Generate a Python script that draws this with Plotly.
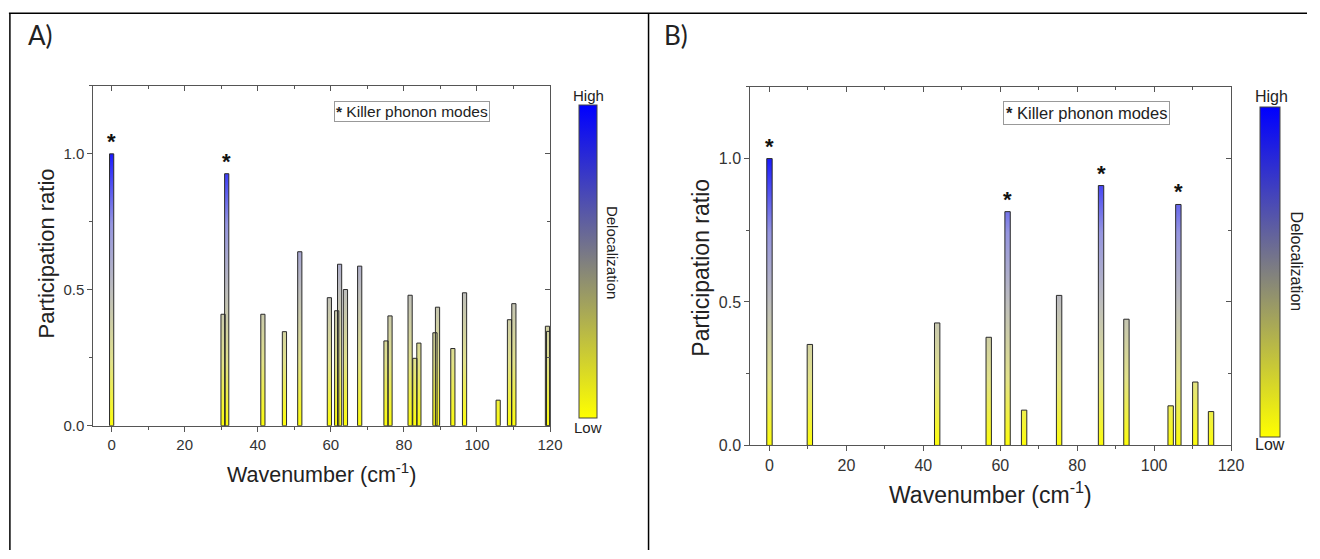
import plotly.graph_objects as go

W, H = 1320, 559

# ---------------- data ----------------
a_wavenumber = [0, 30.5, 31.5, 41.4, 47.3, 51.5, 59.6, 61.6, 62.4, 64.0, 67.9, 75.1, 76.2,
                81.7, 83.0, 84.1, 88.5, 89.2, 93.4, 96.6, 105.8, 108.9, 110.1, 119.3, 119.6]
a_ratio = [1.0, 0.41, 0.927, 0.41, 0.346, 0.64, 0.471, 0.423, 0.594, 0.501, 0.587, 0.312, 0.404,
           0.48, 0.248, 0.304, 0.342, 0.436, 0.284, 0.489, 0.094, 0.39, 0.449, 0.366, 0.347]
a_killer = [0, 31.5]

b_wavenumber = [0, 10.5, 43.6, 57.0, 61.9, 66.2, 75.3, 86.2, 92.8, 104.3, 106.3, 110.7, 114.8]
b_ratio = [1.0, 0.352, 0.427, 0.377, 0.815, 0.123, 0.523, 0.906, 0.44, 0.138, 0.84, 0.221, 0.118]
b_killer = [0, 61.9, 86.2, 106.3]

x_ticks = [0, 20, 40, 60, 80, 100, 120]
y_ticks = [0.0, 0.5, 1.0]
legend_text = "<b>*</b> Killer phonon modes"

# ---------------- styles ----------------
FONT = "Arial, Liberation Sans, sans-serif"
AXC = "#555555"
cbar_scale = [[0, "#ffff00"], [1, "#0000ff"]]
bar_scale = [[0, "#ffff00"], [0.25, "#e2e28a"], [0.5, "#bfbfbc"], [0.75, "#9595e0"], [1, "#1c1cff"]]


def px(x):
    return x / W


def py(y):
    return 1 - y / H


def bar_polygons(xs, hs, w):
    px_, py_ = [], []
    for x, h in zip(xs, hs):
        px_ += [x - w / 2, x - w / 2, x + w / 2, x + w / 2, x - w / 2, None]
        py_ += [0, h, h, 0, 0, None]
    return px_, py_


fig = go.Figure()
star_annotations = []


def add_panel(xs, hs, killer, w, xa, ya, xa2, ya2, star_size):
    bx, by = bar_polygons(xs, hs, w)
    fig.add_trace(go.Scatter(
        x=bx, y=by, mode="lines", fill="toself",
        fillgradient=dict(type="vertical", colorscale=bar_scale, start=0, stop=1),
        line=dict(color="#2a2a2a", width=1),
        xaxis=xa, yaxis=ya, showlegend=False, hoverinfo="skip"))
    for k in killer:
        star_annotations.append(dict(
            text="<b>*</b>", x=k, y=hs[xs.index(k)], xref=xa, yref=ya, showarrow=False,
            xanchor="center", yanchor="bottom", yshift=-2,
            font=dict(size=star_size, color="#111", family=FONT)))
    fig.add_trace(go.Scatter(x=[None], y=[None], xaxis=xa2, yaxis=ya2,
                             showlegend=False, hoverinfo="skip"))


add_panel(a_wavenumber, a_ratio, a_killer, 1.15, "x", "y", "x2", "y2", 22)
add_panel(b_wavenumber, b_ratio, b_killer, 1.4, "x3", "y3", "x4", "y4", 22)


def cbar_trace(xa, ya, cx, top, bottom, thick):
    fig.add_trace(go.Scatter(
        x=[-100, -100], y=[-100, -100], mode="markers", xaxis=xa, yaxis=ya,
        marker=dict(color=[0, 1], colorscale=cbar_scale, cmin=0, cmax=1, size=1, opacity=0,
                    showscale=True,
                    colorbar=dict(x=px(cx), xanchor="left", y=py((top + bottom) / 2),
                                  yanchor="middle", len=bottom - top, lenmode="pixels",
                                  thickness=thick, thicknessmode="pixels", outlinewidth=1,
                                  outlinecolor="#444", showticklabels=False, ticks="",
                                  xpad=0, ypad=0)),
        showlegend=False, hoverinfo="skip"))


cbar_trace("x", "y", 585, 109, 422, 18)
cbar_trace("x3", "y3", 1273, 111, 441, 20)


def axis_common(rng, minor_dtick, fmt=None, size=15):
    d = dict(range=rng, tickmode="array", showline=True, linecolor=AXC, linewidth=1,
             ticks="outside", ticklen=5, tickcolor=AXC, tickwidth=1,
             tickfont=dict(size=size, color="#333", family=FONT),
             showgrid=False, zeroline=False,
             minor=dict(ticks="outside", ticklen=3, tickcolor=AXC, dtick=minor_dtick,
                        showgrid=False))
    if fmt:
        d["tickformat"] = fmt
    return d


xr = [-5, 120]
yr = [0, 1.25]

# Panel A axes
xa = axis_common(xr, 10, size=15)
xa.update(domain=[px(94.3), px(555.5)], anchor="y", tickvals=x_ticks)
ya = axis_common(yr, 0.25, ".1f", size=15)
ya.update(domain=[py(432.7), py(87.3)], anchor="x", tickvals=y_ticks)
xa2 = axis_common(xr, 10)
xa2.update(overlaying="x", anchor="y", side="top", ticks="inside", showticklabels=False,
           tickvals=x_ticks)
xa2["minor"]["ticks"] = "inside"
ya2 = axis_common(yr, 0.25)
ya2.update(overlaying="y", anchor="x", side="right", ticks="inside", showticklabels=False,
           tickvals=y_ticks)
ya2["minor"]["ticks"] = "inside"

# Panel B axes
xb = axis_common(xr, 10, size=16)
xb.update(domain=[px(757.7), px(1243.3)], anchor="y3", tickvals=x_ticks)
yb = axis_common(yr, 0.25, ".1f", size=16)
yb.update(domain=[py(452.7), py(88.3)], anchor="x3", tickvals=y_ticks)
xb2 = axis_common(xr, 10)
xb2.update(overlaying="x3", anchor="y3", side="top", ticks="inside", showticklabels=False,
           tickvals=x_ticks)
xb2["minor"]["ticks"] = "inside"
yb2 = axis_common(yr, 0.25)
yb2.update(overlaying="y3", anchor="x3", side="right", ticks="inside", showticklabels=False,
           tickvals=y_ticks)
yb2["minor"]["ticks"] = "inside"


def ann(text, x, y, size, angle=0, family=FONT, xanchor="center", yanchor="middle", **kw):
    return dict(text=text, x=px(x), y=py(y), xref="paper", yref="paper", showarrow=False,
                font=dict(size=size, color="#222", family=family), textangle=angle,
                xanchor=xanchor, yanchor=yanchor, **kw)


annotations = star_annotations + [
    ann("A)", 26, 36, 26, family="Lato, Open Sans, sans-serif", xanchor="left"),
    ann("B)", 669, 36, 26, family="Lato, Open Sans, sans-serif", xanchor="left"),
    ann("Wavenumber (cm<sup>-1</sup>)", 325, 481, 21.5),
    ann("Wavenumber (cm<sup>-1</sup>)", 1000, 501, 23),
    ann("Participation ratio", 47, 258, 22, angle=-90),
    ann("Participation ratio", 708, 272, 23, angle=-90),
    ann(legend_text, 337, 113, 15.5, xanchor="left", bordercolor="#999", borderwidth=1,
        borderpad=1, bgcolor="white"),
    ann(legend_text, 1013, 114.5, 16.5, xanchor="left", bordercolor="#999", borderwidth=1,
        borderpad=2, bgcolor="white"),
    ann("High", 594, 97, 15),
    ann("Low", 594, 434, 15),
    ann("Delocalization", 618, 257, 15, angle=90),
    ann("High", 1284, 98, 16),
    ann("Low", 1283, 452, 16),
    ann("Delocalization", 1309, 266, 16, angle=90),
]

shapes = [
    dict(type="line", xref="paper", yref="paper", x0=px(9), x1=1, y0=py(13.5), y1=py(13.5),
         line=dict(color="black", width=1.5)),
    dict(type="line", xref="paper", yref="paper", x0=px(10), x1=px(10), y0=py(13.5), y1=0,
         line=dict(color="black", width=1.5)),
    dict(type="line", xref="paper", yref="paper", x0=px(655), x1=px(655), y0=py(13.5), y1=0,
         line=dict(color="black", width=1.5)),
]

fig.update_layout(
    width=W, height=H, margin=dict(l=0, r=0, t=0, b=0, pad=0),
    paper_bgcolor="white", plot_bgcolor="white",
    font=dict(family=FONT),
    xaxis=xa, yaxis=ya, xaxis2=xa2, yaxis2=ya2,
    xaxis3=xb, yaxis3=yb, xaxis4=xb2, yaxis4=yb2,
    annotations=annotations, shapes=shapes, showlegend=False,
)

fig.write_html("out.html")
